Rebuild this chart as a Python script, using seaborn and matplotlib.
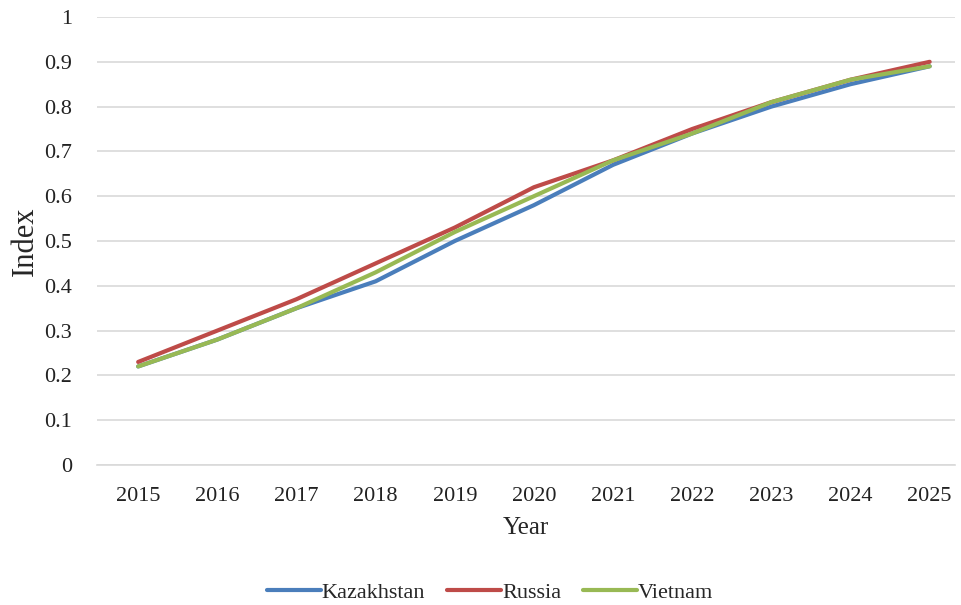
import matplotlib
matplotlib.use("Agg")
import matplotlib.pyplot as plt
import numpy as np
import pandas as pd
import seaborn as sns

years = [2015, 2016, 2017, 2018, 2019, 2020, 2021, 2022, 2023, 2024, 2025]
kazakhstan = [0.22, 0.28, 0.35, 0.41, 0.50, 0.58, 0.67, 0.74, 0.80, 0.85, 0.89]
russia = [0.23, 0.30, 0.37, 0.45, 0.53, 0.62, 0.68, 0.75, 0.81, 0.86, 0.90]
vietnam = [0.22, 0.28, 0.35, 0.43, 0.52, 0.60, 0.68, 0.74, 0.81, 0.86, 0.89]

df = pd.DataFrame({"Year": years, "Kazakhstan": kazakhstan,
                   "Russia": russia, "Vietnam": vietnam})
long = df.melt(id_vars="Year", var_name="Country", value_name="Index")

sns.set_style("white")
plt.rcParams['font.family'] = ['Liberation Serif', 'DejaVu Serif']

fig = plt.figure(figsize=(9.61, 6.05), dpi=100)
ax = fig.add_axes([97 / 961, 1 - 465 / 605, (955 - 97) / 961, (465 - 17) / 605])

palette = {"Kazakhstan": "#4A7EBB", "Russia": "#BE4B48", "Vietnam": "#98B954"}
sns.lineplot(data=long, x="Year", y="Index", hue="Country", palette=palette,
             linewidth=3, ax=ax, legend=True)

ax.set_xlim(2014.48, 2025.32)
ax.set_ylim(0, 1)
ax.set_yticks(np.arange(0, 1.01, 0.1))
ax.set_yticklabels(["0", "0.1", "0.2", "0.3", "0.4", "0.5", "0.6", "0.7", "0.8", "0.9", "1"])
ax.set_xticks(years)
ax.set_xticklabels([str(y) for y in years])
ax.tick_params(axis="both", length=0, labelsize=16, colors="#222222")
ax.tick_params(axis="x", pad=16)
ax.tick_params(axis="y", pad=18)
ax.grid(axis="y", color="#D9D9D9", linewidth=1.2)
ax.set_axisbelow(True)
for s in ["left", "right", "top"]:
    ax.spines[s].set_visible(False)
ax.spines["bottom"].set_color("#D9D9D9")
ax.spines["bottom"].set_linewidth(1.2)

ax.set_xlabel("Year", fontsize=18, labelpad=8)
ax.set_ylabel("Index", fontsize=22, labelpad=3)

handles, labels = ax.get_legend_handles_labels()
ax.legend(handles, labels, loc="lower center", bbox_to_anchor=(0.51, -0.03),
          bbox_transform=fig.transFigure, ncol=3, frameon=False, fontsize=16,
          handlelength=2.4, columnspacing=1.0, handletextpad=0.05)

fig.savefig("out.png", dpi=100)
